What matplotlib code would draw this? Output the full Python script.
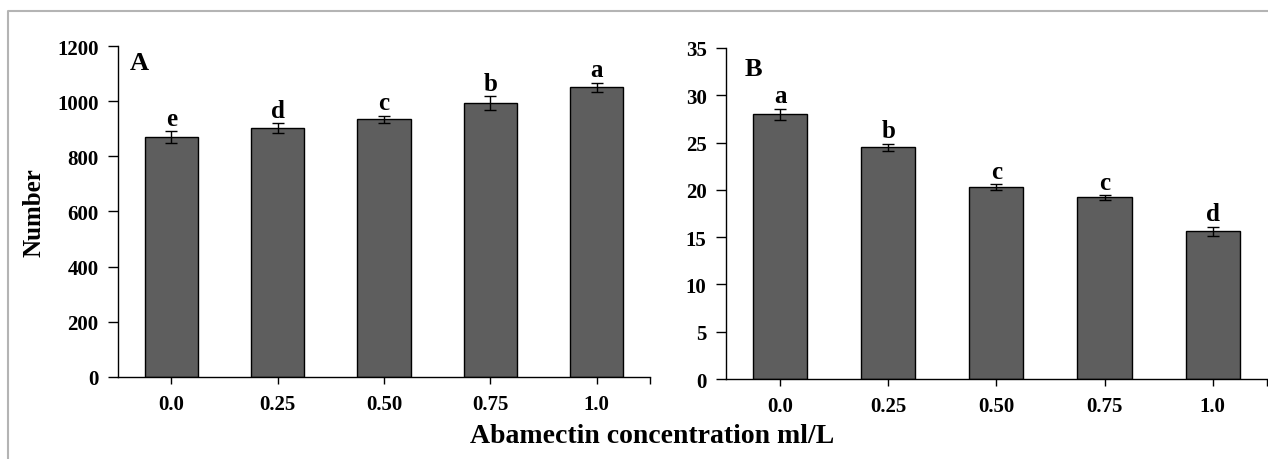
import matplotlib
matplotlib.use("Agg")
from matplotlib import pyplot as plt
from matplotlib.lines import Line2D
import numpy as np

# concentrations (ml/L)
conc = ["0.0", "0.25", "0.50", "0.75", "1.0"]

# panel A
a_mean = [870, 903, 935, 992, 1050]
a_err = [22, 17, 13, 25, 17]
a_letters = ["e", "d", "c", "b", "a"]

# panel B
b_mean = [28.0, 24.5, 20.3, 19.2, 15.6]
b_err = [0.6, 0.4, 0.3, 0.25, 0.5]
b_letters = ["a", "b", "c", "c", "d"]

plt.rcParams['font.family'] = ['Liberation Serif', 'DejaVu Serif']
plt.rcParams['font.weight'] = 'bold'

fig = plt.figure(figsize=(12.68, 4.6), dpi=100)

axA = fig.add_axes([0.0931, 0.1783, 0.4195, 0.7195])
axB = fig.add_axes([0.5726, 0.1739, 0.4264, 0.7196])


def panel(ax, means, errs, letters, ymax, step, tag, tagpos):
    x = np.arange(len(means))
    ax.bar(x, means, width=0.5, color='#5e5e5e', edgecolor='black',
           linewidth=1.0, zorder=2)
    ax.errorbar(x, means, yerr=errs, fmt='none', ecolor='black',
                elinewidth=1.0, capsize=4, capthick=1.0, zorder=3)
    for xi, m, e, lab in zip(x, means, errs, letters):
        ax.annotate(lab, (xi, m + e), xytext=(0, 1), textcoords='offset points',
                    ha='center', va='bottom', fontsize=18, fontweight='bold')
    ax.set_xlim(-0.5, 4.5)
    ax.set_ylim(0, ymax)
    ax.set_yticks(np.arange(0, ymax + step / 2, step))
    ax.set_xticks(x)
    ax.set_xticklabels(conc)
    ax.set_xticks([4.5], minor=True)
    for s in ['top', 'right']:
        ax.spines[s].set_visible(False)
    for s in ['left', 'bottom']:
        ax.spines[s].set_linewidth(1.0)
    ax.tick_params(axis='y', direction='out', length=7, width=1.0, pad=7,
                   labelsize=15)
    ax.tick_params(axis='x', which='major', direction='out', length=5,
                   width=1.0, pad=7, labelsize=15)
    ax.tick_params(axis='x', which='minor', direction='out', length=5,
                   width=1.0)
    for t in ax.get_xticklabels() + ax.get_yticklabels():
        t.set_fontweight('bold')
    ax.text(tagpos[0], tagpos[1], tag, transform=ax.transAxes, fontsize=19,
            fontweight='bold', ha='left', va='center')


panel(axA, a_mean, a_err, a_letters, 1200, 200, "A", (0.022, 0.95))
panel(axB, b_mean, b_err, b_letters, 35, 5, "B", (0.034, 0.937))

axA.set_ylabel("Number", fontsize=18, fontweight='bold', labelpad=8)

fig.text(0.514, 0.05, "Abamectin concentration ml/L", ha='center',
         va='center', fontsize=20, fontweight='bold')

# light grey frame around the figure (top and left edges visible)
fig.add_artist(Line2D([0.0063, 0.0063, 1.0], [0.0, 0.974, 0.974],
                      transform=fig.transFigure, color='#b4b4b4',
                      linewidth=1.5))

fig.savefig("out.png", dpi=100)
